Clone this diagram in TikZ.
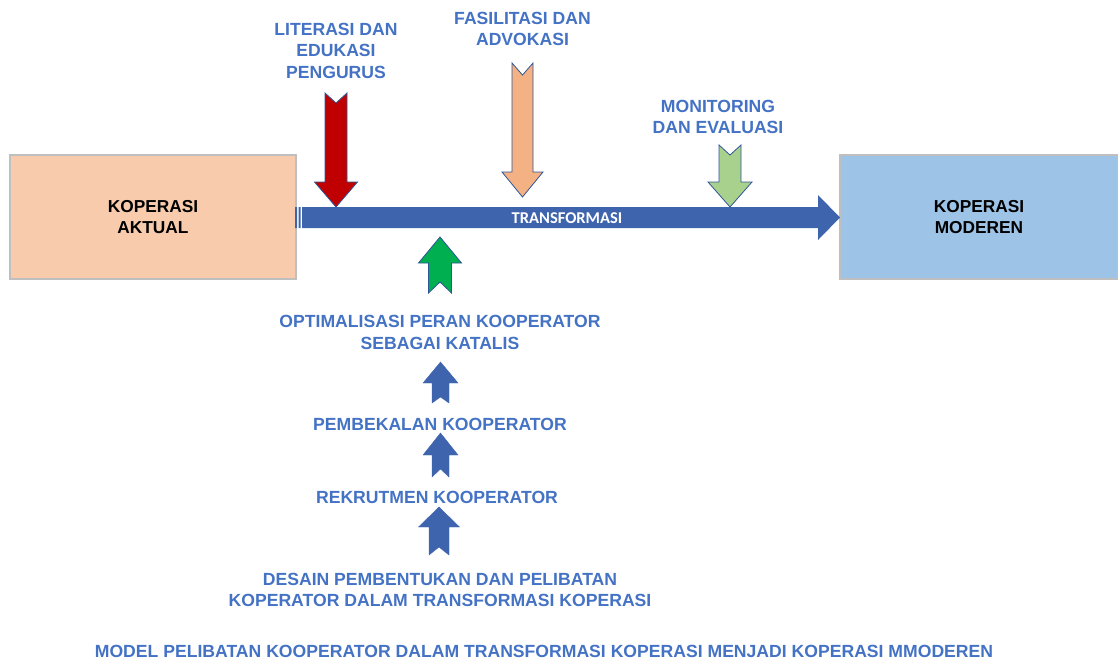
\documentclass[tikz,border=0pt]{standalone}
\usepackage{fontspec}
\setmainfont{Liberation Sans}
\newfontfamily\arialtebal{Liberation Sans Bold}
\newfontfamily\carlito{Carlito Bold}
\usetikzlibrary{positioning}

\definecolor{peach}{HTML}{F8CBAD}
\definecolor{langit}{HTML}{9DC3E6}
\definecolor{abu}{HTML}{BFBFBF}
\definecolor{biru}{HTML}{4472C4}
\definecolor{birutua}{HTML}{3F64AE}
\definecolor{garis}{HTML}{2F5597}
\definecolor{merah}{HTML}{C00000}
\definecolor{oranye}{HTML}{F4B183}
\definecolor{hijaumuda}{HTML}{A9D18E}
\definecolor{hijau}{HTML}{00B050}

% notched block arrow: style, x, y of tail, y of notch, y of head, y of tip, half shaft, half head
\newcommand{\blokpanah}[8]{%
  \filldraw[#1] ({#2-#7},#3) -- (#2,#4) -- ({#2+#7},#3) -- ({#2+#7},#5) -- ({#2+#8},#5)
    -- (#2,#6) -- ({#2-#8},#5) -- ({#2-#7},#5) -- cycle;}

\begin{document}
\begin{tikzpicture}[x=1pt,y=-1pt,
    kotak/.style={draw=abu,line width=2pt,minimum width=#1,minimum height=124pt,
      font=\arialtebal\fontsize{17.3}{20.5}\selectfont,align=center},
    teks/.style={text=biru,font=\arialtebal\fontsize{17.6}{21.5}\selectfont,align=center},
    panah/.style={draw=garis,line width=0.8pt,line join=miter}]
	\useasboundingbox (0,0) rectangle (1118,659);
	\node[kotak=286pt,fill=peach] (aktual) at (153,217) {KOPERASI\\AKTUAL};
	\node[kotak=278pt,fill=langit] (moderen) at (979,217) {KOPERASI\\MODEREN};
	% main arrow
	\fill[birutua] (295,207) rectangle (297,228) (298.5,207) rectangle (300.5,228);
	\fill[birutua] (302,207) -- (818,207) -- (818,195) -- (840,217.5) -- (818,240) -- (818,228) -- (302,228) -- cycle;
	\node[text=white,font=\carlito\fontsize{16.5}{18}\selectfont] (transformasi) at (567,218) {TRANSFORMASI};
	% inputs from above
	\node[teks] (literasi) at (336,50.5) {LITERASI DAN\\EDUKASI\\PENGURUS};
	\node[teks] (fasilitasi) at (522.5,29) {FASILITASI DAN\\ADVOKASI};
	\node[teks] (monitoring) at (718,117) {MONITORING\\DAN EVALUASI};
	\blokpanah{panah,fill=merah}{336}{93}{103}{182}{207}{11}{21.5}
	\blokpanah{panah,fill=oranye}{522.5}{63}{75}{172}{197}{10.5}{20.5}
	\blokpanah{panah,fill=hijaumuda}{730}{145}{155}{182}{207}{11}{22}
	% stack from below
	\blokpanah{panah,fill=hijau}{440}{293}{282}{263}{237}{11.5}{21.5}
	\node[teks] (optimal) at (440,332.5) {OPTIMALISASI PERAN KOOPERATOR\\SEBAGAI KATALIS};
	\blokpanah{draw=birutua,fill=birutua}{440.5}{403}{397}{383}{362}{8.5}{17.5}
	\node[teks] (bekal) at (440,424) {PEMBEKALAN KOOPERATOR};
	\blokpanah{draw=birutua,fill=birutua}{440.5}{477}{469}{455}{433}{8.5}{17.5}
	\node[teks] (rekrut) at (437,497) {REKRUTMEN KOOPERATOR};
	\blokpanah{draw=birutua,fill=birutua}{439}{555}{547}{527}{507}{10}{20.5}
	\node[teks] (desain) at (440,590) {DESAIN PEMBENTUKAN DAN PELIBATAN\\KOPERATOR DALAM TRANSFORMASI KOPERASI};
	\node[teks] (judul) at (544,651) {MODEL PELIBATAN KOOPERATOR DALAM TRANSFORMASI KOPERASI MENJADI KOPERASI MMODEREN};
\end{tikzpicture}
\end{document}
